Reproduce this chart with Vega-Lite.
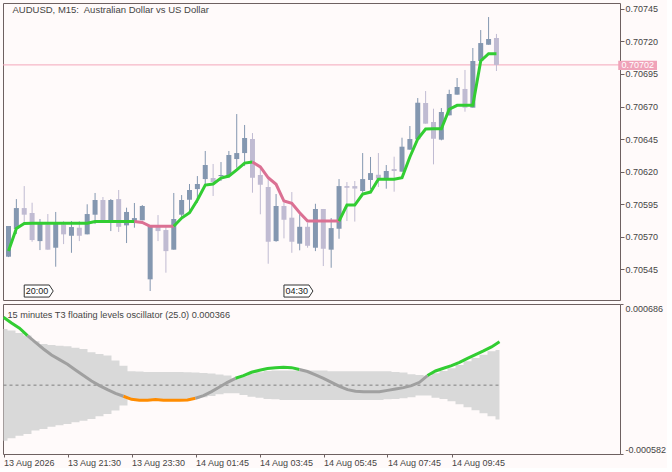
{
  "$schema": "https://vega.github.io/schema/vega-lite/v6.json",
  "background": "#fffafa",
  "padding": {"left": 2, "top": 2, "right": 0, "bottom": 0},
  "spacing": 2,
  "resolve": {"scale": {"x": "independent", "y": "independent", "color": "independent"}},
  "config": {
    "view": {"stroke": "#6e6060", "strokeWidth": 1},
    "axis": {"labelFont": "Liberation Sans", "labelFontSize": 9, "labelColor": "#454545", "domain": false, "grid": false, "ticks": true, "tickColor": "#6e6060", "title": null, "labelOverlap": false, "labelSeparation": 0},
    "text": {"font": "Liberation Sans"}
  },
  "datasets": {
    "candles": [
      {"i":0,"o":0.705545,"h":0.705781,"l":0.705542,"c":0.705781},
      {"i":1,"o":0.705758,"h":0.705988,"l":0.705719,"c":0.705919},
      {"i":2,"o":0.705919,"h":0.706088,"l":0.705796,"c":0.705868},
      {"i":3,"o":0.705881,"h":0.70596,"l":0.70566,"c":0.705673},
      {"i":4,"o":0.705665,"h":0.705835,"l":0.705596,"c":0.705812},
      {"i":5,"o":0.705794,"h":0.705873,"l":0.705599,"c":0.705599},
      {"i":6,"o":0.705614,"h":0.705889,"l":0.705468,"c":0.705796},
      {"i":7,"o":0.705794,"h":0.705819,"l":0.705642,"c":0.705717},
      {"i":8,"o":0.705706,"h":0.705819,"l":0.705575,"c":0.705773},
      {"i":9,"o":0.705768,"h":0.705819,"l":0.705665,"c":0.705706},
      {"i":10,"o":0.705717,"h":0.705948,"l":0.705717,"c":0.705873},
      {"i":11,"o":0.705868,"h":0.706035,"l":0.705796,"c":0.705981},
      {"i":12,"o":0.705981,"h":0.706004,"l":0.705819,"c":0.705819},
      {"i":13,"o":0.705819,"h":0.705988,"l":0.705742,"c":0.705981},
      {"i":14,"o":0.705988,"h":0.706058,"l":0.705735,"c":0.705775},
      {"i":15,"o":0.705786,"h":0.705922,"l":0.70565,"c":0.705889},
      {"i":16,"o":0.705804,"h":0.705958,"l":0.705768,"c":0.705842},
      {"i":17,"o":0.705825,"h":0.705942,"l":0.705825,"c":0.705935},
      {"i":18,"o":0.705371,"h":0.705781,"l":0.705281,"c":0.705781},
      {"i":19,"o":0.705773,"h":0.705865,"l":0.705665,"c":0.705742},
      {"i":20,"o":0.70575,"h":0.705773,"l":0.705422,"c":0.705588},
      {"i":21,"o":0.705599,"h":0.706035,"l":0.705599,"c":0.705835},
      {"i":22,"o":0.705868,"h":0.706019,"l":0.705845,"c":0.705981},
      {"i":23,"o":0.705983,"h":0.706104,"l":0.705896,"c":0.706058},
      {"i":24,"o":0.706065,"h":0.706165,"l":0.70596,"c":0.706104},
      {"i":25,"o":0.706142,"h":0.706358,"l":0.706104,"c":0.70625},
      {"i":26,"o":0.70615,"h":0.706258,"l":0.706012,"c":0.706119},
      {"i":27,"o":0.706165,"h":0.706273,"l":0.706127,"c":0.706173},
      {"i":28,"o":0.706165,"h":0.706358,"l":0.706152,"c":0.706327},
      {"i":29,"o":0.706296,"h":0.706642,"l":0.706229,"c":0.706342},
      {"i":30,"o":0.706342,"h":0.706558,"l":0.706242,"c":0.706458},
      {"i":31,"o":0.70645,"h":0.706496,"l":0.706037,"c":0.706152},
      {"i":32,"o":0.706173,"h":0.706229,"l":0.705871,"c":0.706099},
      {"i":33,"o":0.706081,"h":0.706152,"l":0.705491,"c":0.70566},
      {"i":34,"o":0.705665,"h":0.706027,"l":0.70566,"c":0.705935},
      {"i":35,"o":0.705935,"h":0.70596,"l":0.705686,"c":0.705829},
      {"i":36,"o":0.705845,"h":0.706042,"l":0.705575,"c":0.70566},
      {"i":37,"o":0.705645,"h":0.705871,"l":0.705594,"c":0.705775},
      {"i":38,"o":0.705775,"h":0.705806,"l":0.705614,"c":0.705629},
      {"i":39,"o":0.705614,"h":0.705952,"l":0.705588,"c":0.705912},
      {"i":40,"o":0.705912,"h":0.705912,"l":0.705473,"c":0.705606},
      {"i":41,"o":0.705599,"h":0.705842,"l":0.70546,"c":0.705765},
      {"i":42,"o":0.70576,"h":0.706142,"l":0.705683,"c":0.706088},
      {"i":43,"o":0.706088,"h":0.706119,"l":0.705819,"c":0.706075},
      {"i":44,"o":0.706088,"h":0.706127,"l":0.705815,"c":0.706069},
      {"i":45,"o":0.70605,"h":0.706342,"l":0.706037,"c":0.706142},
      {"i":46,"o":0.706135,"h":0.706312,"l":0.706065,"c":0.706188},
      {"i":47,"o":0.706175,"h":0.706342,"l":0.706081,"c":0.706145},
      {"i":48,"o":0.70615,"h":0.70625,"l":0.706068,"c":0.706204},
      {"i":49,"o":0.706219,"h":0.706314,"l":0.706045,"c":0.706204},
      {"i":50,"o":0.706199,"h":0.70646,"l":0.706199,"c":0.706391},
      {"i":51,"o":0.706368,"h":0.70655,"l":0.706368,"c":0.70645},
      {"i":52,"o":0.706448,"h":0.706765,"l":0.706448,"c":0.706729},
      {"i":53,"o":0.706727,"h":0.706819,"l":0.706568,"c":0.706568},
      {"i":54,"o":0.706581,"h":0.706683,"l":0.706255,"c":0.706452},
      {"i":55,"o":0.706445,"h":0.706688,"l":0.70644,"c":0.706658},
      {"i":56,"o":0.706632,"h":0.706829,"l":0.706632,"c":0.706796},
      {"i":57,"o":0.706791,"h":0.706919,"l":0.706791,"c":0.70685},
      {"i":58,"o":0.706835,"h":0.706981,"l":0.70666,"c":0.706691},
      {"i":59,"o":0.706691,"h":0.70715,"l":0.706691,"c":0.70705},
      {"i":60,"o":0.70705,"h":0.707288,"l":0.70705,"c":0.707188},
      {"i":61,"o":0.707175,"h":0.707388,"l":0.707175,"c":0.707219},
      {"i":62,"o":0.707227,"h":0.707258,"l":0.706973,"c":0.70702}
    ],
    "t3": [
      {"i":0,"v":0.705588,"seg":"a","dir":"up"},
      {"i":1,"v":0.705762,"seg":"a","dir":"up"},
      {"i":2,"v":0.7058,"seg":"a","dir":"up"},
      {"i":3,"v":0.705802,"seg":"a","dir":"up"},
      {"i":4,"v":0.705802,"seg":"a","dir":"up"},
      {"i":5,"v":0.705802,"seg":"a","dir":"up"},
      {"i":6,"v":0.705802,"seg":"a","dir":"up"},
      {"i":7,"v":0.705802,"seg":"a","dir":"up"},
      {"i":8,"v":0.705802,"seg":"a","dir":"up"},
      {"i":9,"v":0.705802,"seg":"a","dir":"up"},
      {"i":10,"v":0.705802,"seg":"a","dir":"up"},
      {"i":11,"v":0.705815,"seg":"a","dir":"up"},
      {"i":12,"v":0.705815,"seg":"a","dir":"up"},
      {"i":13,"v":0.705815,"seg":"a","dir":"up"},
      {"i":14,"v":0.705815,"seg":"a","dir":"up"},
      {"i":15,"v":0.705815,"seg":"a","dir":"up"},
      {"i":16,"v":0.705815,"seg":"a","dir":"up"},
      {"i":16,"v":0.705815,"seg":"b","dir":"down"},
      {"i":17,"v":0.705808,"seg":"b","dir":"down"},
      {"i":18,"v":0.705779,"seg":"b","dir":"down"},
      {"i":19,"v":0.705779,"seg":"b","dir":"down"},
      {"i":20,"v":0.705779,"seg":"b","dir":"down"},
      {"i":21,"v":0.705779,"seg":"b","dir":"down"},
      {"i":21,"v":0.705779,"seg":"c","dir":"up"},
      {"i":22,"v":0.705842,"seg":"c","dir":"up"},
      {"i":23,"v":0.705883,"seg":"c","dir":"up"},
      {"i":24,"v":0.705981,"seg":"c","dir":"up"},
      {"i":25,"v":0.706096,"seg":"c","dir":"up"},
      {"i":26,"v":0.706104,"seg":"c","dir":"up"},
      {"i":27,"v":0.70615,"seg":"c","dir":"up"},
      {"i":28,"v":0.706165,"seg":"c","dir":"up"},
      {"i":29,"v":0.706212,"seg":"c","dir":"up"},
      {"i":30,"v":0.706265,"seg":"c","dir":"up"},
      {"i":31,"v":0.706273,"seg":"c","dir":"up"},
      {"i":31,"v":0.706273,"seg":"d","dir":"down"},
      {"i":32,"v":0.706235,"seg":"d","dir":"down"},
      {"i":33,"v":0.706152,"seg":"d","dir":"down"},
      {"i":34,"v":0.706102,"seg":"d","dir":"down"},
      {"i":35,"v":0.705973,"seg":"d","dir":"down"},
      {"i":36,"v":0.705955,"seg":"d","dir":"down"},
      {"i":37,"v":0.705883,"seg":"d","dir":"down"},
      {"i":38,"v":0.705819,"seg":"d","dir":"down"},
      {"i":39,"v":0.705819,"seg":"d","dir":"down"},
      {"i":40,"v":0.705819,"seg":"d","dir":"down"},
      {"i":41,"v":0.705819,"seg":"d","dir":"down"},
      {"i":42,"v":0.705819,"seg":"d","dir":"down"},
      {"i":42,"v":0.705819,"seg":"e","dir":"up"},
      {"i":43,"v":0.705942,"seg":"e","dir":"up"},
      {"i":44,"v":0.705942,"seg":"e","dir":"up"},
      {"i":45,"v":0.706027,"seg":"e","dir":"up"},
      {"i":46,"v":0.706042,"seg":"e","dir":"up"},
      {"i":47,"v":0.70614,"seg":"e","dir":"up"},
      {"i":48,"v":0.70614,"seg":"e","dir":"up"},
      {"i":49,"v":0.70614,"seg":"e","dir":"up"},
      {"i":50,"v":0.706152,"seg":"e","dir":"up"},
      {"i":51,"v":0.706312,"seg":"e","dir":"up"},
      {"i":52,"v":0.70645,"seg":"e","dir":"up"},
      {"i":53,"v":0.706527,"seg":"e","dir":"up"},
      {"i":54,"v":0.706529,"seg":"e","dir":"up"},
      {"i":55,"v":0.706529,"seg":"e","dir":"up"},
      {"i":56,"v":0.706679,"seg":"e","dir":"up"},
      {"i":57,"v":0.706709,"seg":"e","dir":"up"},
      {"i":58,"v":0.706709,"seg":"e","dir":"up"},
      {"i":59,"v":0.706709,"seg":"e","dir":"up"},
      {"i":60,"v":0.70705,"seg":"e","dir":"up"},
      {"i":61,"v":0.707106,"seg":"e","dir":"up"},
      {"i":62,"v":0.707106,"seg":"e","dir":"up"}
    ],
    "markers": [
      {"i":2,"label":"20:00"},
      {"i":35,"label":"04:30"}
    ],
    "band": [
      {"i":0,"up":0.000475,"lo":-0.000469},
      {"i":1,"up":0.000461,"lo":-0.000449},
      {"i":2,"up":0.000441,"lo":-0.000428},
      {"i":3,"up":0.000419,"lo":-0.000413},
      {"i":4,"up":0.000371,"lo":-0.000384},
      {"i":5,"up":0.000348,"lo":-0.000371},
      {"i":6,"up":0.000339,"lo":-0.000352},
      {"i":7,"up":0.000334,"lo":-0.000339},
      {"i":8,"up":0.000328,"lo":-0.000328},
      {"i":9,"up":0.000317,"lo":-0.000314},
      {"i":10,"up":0.000306,"lo":-0.0003},
      {"i":11,"up":0.000278,"lo":-0.000286},
      {"i":12,"up":0.000263,"lo":-0.000263},
      {"i":13,"up":0.00025,"lo":-0.000244},
      {"i":14,"up":0.000208,"lo":-0.000215},
      {"i":15,"up":0.000165,"lo":-0.000173},
      {"i":16,"up":0.000117,"lo":-0.00012},
      {"i":17,"up":0.000115,"lo":-0.000117},
      {"i":18,"up":0.000111,"lo":-0.000117},
      {"i":19,"up":0.000111,"lo":-0.000117},
      {"i":20,"up":0.000111,"lo":-0.000117},
      {"i":21,"up":0.000111,"lo":-0.000117},
      {"i":22,"up":0.000111,"lo":-0.000117},
      {"i":23,"up":0.000109,"lo":-0.000117},
      {"i":24,"up":0.000106,"lo":-0.000114},
      {"i":25,"up":0.000103,"lo":-0.000103},
      {"i":26,"up":0.000098,"lo":-0.000092},
      {"i":27,"up":0.000089,"lo":-0.000077},
      {"i":28,"up":0.000081,"lo":-0.000069},
      {"i":29,"up":0.000056,"lo":-0.000069},
      {"i":30,"up":0.000076,"lo":-0.000083},
      {"i":31,"up":0.000098,"lo":-0.000097},
      {"i":32,"up":0.000109,"lo":-0.000107},
      {"i":33,"up":0.00012,"lo":-0.000117},
      {"i":34,"up":0.000123,"lo":-0.00012},
      {"i":35,"up":0.000123,"lo":-0.000126},
      {"i":36,"up":0.000123,"lo":-0.000126},
      {"i":37,"up":0.000123,"lo":-0.000126},
      {"i":38,"up":0.000123,"lo":-0.000126},
      {"i":39,"up":0.000123,"lo":-0.000126},
      {"i":40,"up":0.000123,"lo":-0.000126},
      {"i":41,"up":0.000117,"lo":-0.000126},
      {"i":42,"up":0.000117,"lo":-0.000126},
      {"i":43,"up":0.000117,"lo":-0.000126},
      {"i":44,"up":0.000117,"lo":-0.000126},
      {"i":45,"up":0.000117,"lo":-0.000126},
      {"i":46,"up":0.000117,"lo":-0.000126},
      {"i":47,"up":0.000117,"lo":-0.000126},
      {"i":48,"up":0.000117,"lo":-0.00012},
      {"i":49,"up":0.000111,"lo":-0.000117},
      {"i":50,"up":0.000106,"lo":-0.000111},
      {"i":51,"up":0.000092,"lo":-0.000103},
      {"i":52,"up":0.000086,"lo":-0.000088},
      {"i":53,"up":0.00008,"lo":-0.000088},
      {"i":54,"up":0.0001,"lo":-0.000107},
      {"i":55,"up":0.00012,"lo":-0.000117},
      {"i":56,"up":0.000143,"lo":-0.000137},
      {"i":57,"up":0.00017,"lo":-0.000162},
      {"i":58,"up":0.000202,"lo":-0.000187},
      {"i":59,"up":0.00023,"lo":-0.000213},
      {"i":60,"up":0.000258,"lo":-0.000238},
      {"i":61,"up":0.000286,"lo":-0.000263},
      {"i":62,"up":0.000297,"lo":-0.000291}
    ],
    "osc": [
      {"i":0,"v":0.000574,"seg":"a","lvl":"hi"},
      {"i":1,"v":0.000525,"seg":"a","lvl":"hi"},
      {"i":2,"v":0.000481,"seg":"a","lvl":"hi"},
      {"i":3,"v":0.000419,"seg":"a","lvl":"hi"},
      {"i":3,"v":0.000419,"seg":"b","lvl":"mid"},
      {"i":4,"v":0.000362,"seg":"b","lvl":"mid"},
      {"i":5,"v":0.000306,"seg":"b","lvl":"mid"},
      {"i":6,"v":0.000255,"seg":"b","lvl":"mid"},
      {"i":7,"v":0.000216,"seg":"b","lvl":"mid"},
      {"i":8,"v":0.000176,"seg":"b","lvl":"mid"},
      {"i":9,"v":0.000128,"seg":"b","lvl":"mid"},
      {"i":10,"v":0.000081,"seg":"b","lvl":"mid"},
      {"i":11,"v":0.000035,"seg":"b","lvl":"mid"},
      {"i":12,"v":-0.000004,"seg":"b","lvl":"mid"},
      {"i":13,"v":-0.000038,"seg":"b","lvl":"mid"},
      {"i":14,"v":-0.000069,"seg":"b","lvl":"mid"},
      {"i":15,"v":-0.000094,"seg":"b","lvl":"mid"},
      {"i":15,"v":-0.000094,"seg":"c","lvl":"lo"},
      {"i":16,"v":-0.00012,"seg":"c","lvl":"lo"},
      {"i":17,"v":-0.000128,"seg":"c","lvl":"lo"},
      {"i":18,"v":-0.000128,"seg":"c","lvl":"lo"},
      {"i":19,"v":-0.000122,"seg":"c","lvl":"lo"},
      {"i":20,"v":-0.000128,"seg":"c","lvl":"lo"},
      {"i":21,"v":-0.000128,"seg":"c","lvl":"lo"},
      {"i":22,"v":-0.000128,"seg":"c","lvl":"lo"},
      {"i":23,"v":-0.000126,"seg":"c","lvl":"lo"},
      {"i":24,"v":-0.000111,"seg":"c","lvl":"lo"},
      {"i":24,"v":-0.000111,"seg":"d","lvl":"mid"},
      {"i":25,"v":-0.000088,"seg":"d","lvl":"mid"},
      {"i":26,"v":-0.000055,"seg":"d","lvl":"mid"},
      {"i":27,"v":-0.000016,"seg":"d","lvl":"mid"},
      {"i":28,"v":0.000024,"seg":"d","lvl":"mid"},
      {"i":29,"v":0.000058,"seg":"d","lvl":"mid"},
      {"i":29,"v":0.000058,"seg":"e","lvl":"hi"},
      {"i":30,"v":0.000081,"seg":"e","lvl":"hi"},
      {"i":31,"v":0.000109,"seg":"e","lvl":"hi"},
      {"i":32,"v":0.000126,"seg":"e","lvl":"hi"},
      {"i":33,"v":0.00014,"seg":"e","lvl":"hi"},
      {"i":34,"v":0.000148,"seg":"e","lvl":"hi"},
      {"i":35,"v":0.000151,"seg":"e","lvl":"hi"},
      {"i":36,"v":0.000148,"seg":"e","lvl":"hi"},
      {"i":37,"v":0.000132,"seg":"e","lvl":"hi"},
      {"i":37,"v":0.000132,"seg":"f","lvl":"mid"},
      {"i":38,"v":0.000115,"seg":"f","lvl":"mid"},
      {"i":39,"v":0.000086,"seg":"f","lvl":"mid"},
      {"i":40,"v":0.000058,"seg":"f","lvl":"mid"},
      {"i":41,"v":0.000024,"seg":"f","lvl":"mid"},
      {"i":42,"v":-0.00001,"seg":"f","lvl":"mid"},
      {"i":43,"v":-0.000038,"seg":"f","lvl":"mid"},
      {"i":44,"v":-0.000052,"seg":"f","lvl":"mid"},
      {"i":45,"v":-0.000055,"seg":"f","lvl":"mid"},
      {"i":46,"v":-0.000055,"seg":"f","lvl":"mid"},
      {"i":47,"v":-0.000055,"seg":"f","lvl":"mid"},
      {"i":48,"v":-0.000044,"seg":"f","lvl":"mid"},
      {"i":49,"v":-0.000033,"seg":"f","lvl":"mid"},
      {"i":50,"v":-0.000021,"seg":"f","lvl":"mid"},
      {"i":51,"v":-0.000004,"seg":"f","lvl":"mid"},
      {"i":52,"v":0.000024,"seg":"f","lvl":"mid"},
      {"i":53,"v":0.000081,"seg":"f","lvl":"mid"},
      {"i":53,"v":0.000081,"seg":"g","lvl":"hi"},
      {"i":54,"v":0.00012,"seg":"g","lvl":"hi"},
      {"i":55,"v":0.000143,"seg":"g","lvl":"hi"},
      {"i":56,"v":0.000165,"seg":"g","lvl":"hi"},
      {"i":57,"v":0.000193,"seg":"g","lvl":"hi"},
      {"i":58,"v":0.000227,"seg":"g","lvl":"hi"},
      {"i":59,"v":0.000258,"seg":"g","lvl":"hi"},
      {"i":60,"v":0.000289,"seg":"g","lvl":"hi"},
      {"i":61,"v":0.000323,"seg":"g","lvl":"hi"},
      {"i":62,"v":0.000366,"seg":"g","lvl":"hi"}
    ]
  },
  "vconcat": [
    {
      "width": 617,
      "height": 297,
      "layer": [
        {
          "data": {"values": [{}]},
          "mark": {"type": "rule", "color": "#f4a6ba", "strokeWidth": 1},
          "encoding": {
            "y": {
              "datum": 0.70702, "type": "quantitative",
              "scale": {"domain": [0.705212, 0.707496], "zero": false, "nice": false},
              "axis": {"orient": "right", "values": [0.70545, 0.7057, 0.70595, 0.7062, 0.70645, 0.7067, 0.70695, 0.7072, 0.70745], "tickCount": 30, "format": ".5f", "tickSize": 4, "labelPadding": 1, "labelFlush": false, "labelOverlap": false}
            }
          }
        },
        {
          "data": {"name": "candles"},
          "mark": {"type": "rule", "strokeWidth": 1, "clip": true},
          "encoding": {
            "x": {"field": "i", "type": "quantitative", "scale": {"domain": [-0.0625, 77.0625], "zero": false, "nice": false}, "axis": null},
            "y": {"field": "l", "type": "quantitative"},
            "y2": {"field": "h"},
            "color": {"condition": {"test": "datum.c >= datum.o", "value": "#8497b0"}, "value": "#c0bbd2"}
          }
        },
        {
          "data": {"name": "candles"},
          "mark": {"type": "bar", "size": 5, "clip": true},
          "encoding": {
            "x": {"field": "i", "type": "quantitative", "axis": null},
            "y": {"field": "o", "type": "quantitative"},
            "y2": {"field": "c"},
            "color": {"condition": {"test": "datum.c >= datum.o", "value": "#8497b0"}, "value": "#c0bbd2"}
          }
        },
        {
          "data": {"name": "t3"},
          "mark": {"type": "line", "strokeWidth": 3, "clip": true},
          "encoding": {
            "x": {"field": "i", "type": "quantitative", "axis": null},
            "y": {"field": "v", "type": "quantitative"},
            "detail": {"field": "seg"},
            "color": {"field": "dir", "type": "nominal", "scale": {"domain": ["up", "down"], "range": ["#32cd32", "#db7093"]}, "legend": null}
          }
        },
        {
          "data": {"values": [{}]},
          "mark": {"type": "text", "align": "left", "baseline": "middle", "dx": 4, "fontSize": 9.5, "color": "#454545", "text": "AUDUSD, M15:\u00a0 Australian Dollar vs US Dollar"},
          "encoding": {
            "x": {"datum": 0, "type": "quantitative", "axis": null},
            "y": {"datum": 0.70744, "type": "quantitative"}
          }
        },
        {
          "data": {"name": "markers"},
          "mark": {"type": "point", "shape": "M0,-0.43L1.79,-0.43L2.07,0L1.79,0.43L0,0.43Z", "size": 784, "filled": true, "fill": "#ffffff", "stroke": "#333333", "strokeWidth": 1, "opacity": 1},
          "encoding": {
            "x": {"field": "i", "type": "quantitative", "axis": null},
            "y": {"datum": 0.705281, "type": "quantitative"}
          }
        },
        {
          "data": {"name": "markers"},
          "mark": {"type": "text", "align": "left", "baseline": "middle", "dx": 1.5, "fontSize": 9, "color": "#1a1a1a"},
          "encoding": {
            "x": {"field": "i", "type": "quantitative", "axis": null},
            "y": {"datum": 0.705281, "type": "quantitative"},
            "text": {"field": "label"}
          }
        },
        {
          "data": {"values": [{}]},
          "mark": {"type": "rect", "color": "#f0a3b9", "clip": false},
          "encoding": {
            "x": {"datum": 77.475, "type": "quantitative", "axis": null},
            "x2": {"datum": 82.4},
            "y": {"datum": 0.707052, "type": "quantitative"},
            "y2": {"datum": 0.706981}
          }
        },
        {
          "data": {"values": [{}]},
          "mark": {"type": "text", "align": "center", "baseline": "middle", "fontSize": 9, "color": "#ffffff", "text": "0.70702", "clip": false},
          "encoding": {
            "x": {"datum": 79.94, "type": "quantitative", "axis": null},
            "y": {"datum": 0.70702, "type": "quantitative"}
          }
        }
      ]
    },
    {
      "width": 617,
      "height": 150,
      "layer": [
        {
          "data": {"name": "band"},
          "mark": {"type": "area", "interpolate": "step", "color": "#d9d9d9", "opacity": 1},
          "encoding": {
            "x": {
              "field": "i", "type": "quantitative",
              "scale": {"domain": [-0.0625, 77.0625], "zero": false, "nice": false},
              "axis": {
                "values": [0, 8, 16, 24, 32, 40, 48, 56],
                "tickCount": 30,
                "labelExpr": "['13 Aug 2026','13 Aug 21:30','13 Aug 23:30','14 Aug 01:45','14 Aug 03:45','14 Aug 05:45','14 Aug 07:45','14 Aug 09:45'][round(datum.value / 8)]",
                "labelAlign": "left", "tickSize": 3, "labelPadding": 1, "labelOverlap": false, "labelFlush": false
              }
            },
            "y": {
              "field": "up", "type": "quantitative",
              "scale": {"domain": [-0.000582, 0.000686], "zero": false, "nice": false},
              "axis": {
                "orient": "right", "values": [-0.000582, 0.000686],
                "labelExpr": "datum.value < 0 ? '-' + format(-datum.value, '.6f') : format(datum.value, '.6f')",
                "labelFlush": true, "labelOverlap": false, "tickSize": 3, "labelPadding": 2
              }
            },
            "y2": {"field": "lo"}
          }
        },
        {
          "data": {"values": [{}]},
          "mark": {"type": "rule", "color": "#808080", "strokeWidth": 1, "strokeDash": [3, 3]},
          "encoding": {
            "x": {"datum": 0, "type": "quantitative"},
            "x2": {"datum": 62},
            "y": {"datum": 0, "type": "quantitative"}
          }
        },
        {
          "data": {"name": "osc"},
          "mark": {"type": "line", "strokeWidth": 3, "clip": true},
          "encoding": {
            "x": {"field": "i", "type": "quantitative"},
            "y": {"field": "v", "type": "quantitative"},
            "detail": {"field": "seg"},
            "color": {"field": "lvl", "type": "nominal", "scale": {"domain": ["hi", "mid", "lo"], "range": ["#32cd32", "#a0a0a0", "#ff8c00"]}, "legend": null}
          }
        },
        {
          "data": {"values": [{}]},
          "mark": {"type": "text", "align": "left", "baseline": "middle", "dx": 4, "fontSize": 9.2, "color": "#454545", "text": "15 minutes T3 floating levels oscillator (25.0) 0.000366"},
          "encoding": {
            "x": {"datum": 0, "type": "quantitative"},
            "y": {"datum": 0.000593, "type": "quantitative"}
          }
        }
      ]
    }
  ]
}
